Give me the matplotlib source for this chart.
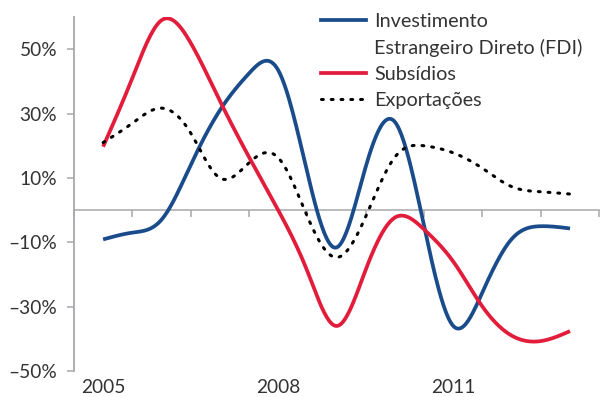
import numpy as np
import matplotlib.pyplot as plt
from matplotlib.lines import Line2D

plt.rcParams['font.family'] = ['Lato', 'DejaVu Sans']

# half-year observations, 2005 to 2013 (% change)
periods = np.arange(2005, 2013.01, 0.5)
fdi = [-9.1, -7.0, -3.0, 14.0, 31.0, 42.5, 43.5, 11.6, -11.6, 13.5, 27.4,
       -5.0, -36.0, -25.5, -9.0, -5.0, -5.7]
subsidios = [19.7, 41.0, 59.0, 52.0, 34.0, 16.5, 0.0, -19.0, -36.0, -18.5,
             -2.3, -6.0, -16.0, -30.0, -39.0, -40.7, -37.6]
exportacoes = [21.0, 27.0, 31.7, 24.0, 10.0, 14.7, 16.3, -2.0, -14.7, -2.0,
               16.5, 20.0, 17.8, 13.0, 7.3, 5.7, 5.0]

year_labels = [2005, 2008, 2011]
y_ticks = [-50, -30, -10, 10, 30, 50]

BLUE = '#1a4c8b'
RED = '#e21d3b'
GRAY = '#a6a8ab'
TEXT = '#333333'


def smooth(x, y, n=400):
    # natural cubic spline through the points
    x = np.asarray(x, float)
    y = np.asarray(y, float)
    m = len(x)
    h = np.diff(x)
    A = np.zeros((m, m))
    b = np.zeros(m)
    A[0, 0] = A[-1, -1] = 1.0
    for i in range(1, m - 1):
        A[i, i - 1] = h[i - 1]
        A[i, i] = 2 * (h[i - 1] + h[i])
        A[i, i + 1] = h[i]
        b[i] = 6 * ((y[i + 1] - y[i]) / h[i] - (y[i] - y[i - 1]) / h[i - 1])
    M = np.linalg.solve(A, b)
    xs = np.linspace(x[0], x[-1], n)
    idx = np.clip(np.searchsorted(x, xs) - 1, 0, m - 2)
    x0, x1 = x[idx], x[idx + 1]
    hh = x1 - x0
    a = (x1 - xs) / hh
    c = (xs - x0) / hh
    ys = (a * y[idx] + c * y[idx + 1]
          + ((a ** 3 - a) * M[idx] + (c ** 3 - c) * M[idx + 1]) * hh ** 2 / 6)
    return xs, ys


fig = plt.figure(figsize=(6.01, 3.97), dpi=100)
ax = fig.add_axes([0.123, 0.0655, 0.874, 0.8915])

ax.plot(*smooth(periods, fdi), color=BLUE, lw=2.7, solid_capstyle='butt')
ax.plot(*smooth(periods, subsidios), color=RED, lw=2.7, solid_capstyle='butt')
ax.plot(*smooth(periods, exportacoes), color='black', lw=2.2,
        linestyle=(0, (0.6, 2.6)), dash_capstyle='round')

ax.set_xlim(2004.5, 2013.5)
ax.set_ylim(-50, 60)

for side in ('top', 'right', 'bottom'):
    ax.spines[side].set_visible(False)
ax.spines['left'].set_color(GRAY)
ax.spines['left'].set_linewidth(1.3)

ax.set_yticks(y_ticks)
ax.set_yticklabels([f'{v}%'.replace('-', '\u2013') for v in y_ticks])
ax.tick_params(axis='y', direction='out', length=5, width=1.1, color=GRAY,
               pad=7, labelsize=13.8, labelcolor=TEXT)

ax.set_xticks(year_labels)
ax.set_xticklabels([str(y) for y in year_labels])
ax.tick_params(axis='x', length=0, pad=6, labelsize=13.8, labelcolor=TEXT)

# zero line with category boundary ticks
zero_frac = (0 - ax.get_ylim()[0]) / (ax.get_ylim()[1] - ax.get_ylim()[0])
zero_axis = ax.secondary_xaxis(zero_frac)
zero_axis.spines['bottom'].set_color(GRAY)
zero_axis.spines['bottom'].set_linewidth(1.1)
zero_axis.set_xticks(np.arange(2004.5, 2013.6, 1.0))
zero_axis.set_xticklabels([])
zero_axis.tick_params(direction='out', length=5, width=1.1, color=GRAY)

handles = [Line2D([], [], color=BLUE, lw=2.7),
           Line2D([], [], color='none'),
           Line2D([], [], color=RED, lw=2.7),
           Line2D([], [], color='black', lw=2.2, linestyle=(0, (0.6, 2.6)),
                  dash_capstyle='round')]
labels = ['Investimento', 'Estrangeiro Direto (FDI)', 'Subsídios', 'Exportações']
fig.legend(handles, labels, loc='upper left', bbox_to_anchor=(0.527, 0.978),
           frameon=False, fontsize=14.3, labelcolor=TEXT, handlelength=2.3,
           handletextpad=0.4, labelspacing=0.45, borderpad=0.2,
           borderaxespad=0)

fig.savefig('out.png', dpi=100)
